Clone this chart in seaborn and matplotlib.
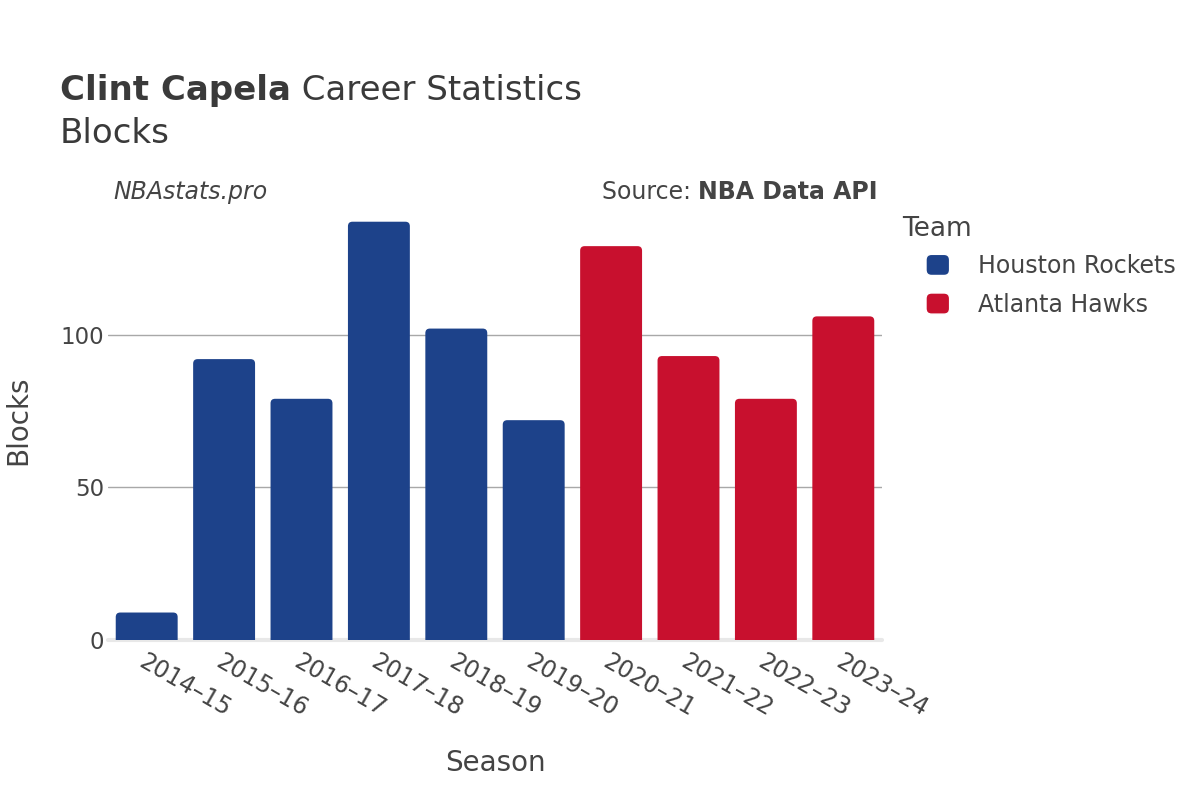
import matplotlib
matplotlib.use("Agg")
import matplotlib.pyplot as plt
import seaborn as sns
import pandas as pd
from matplotlib.patches import FancyBboxPatch
from matplotlib.legend_handler import HandlerPatch

# ---------------------------------------------------------------------------
# Data
# ---------------------------------------------------------------------------
SEASONS = ["2014–15", "2015–16", "2016–17", "2017–18", "2018–19",
           "2019–20", "2020–21", "2021–22", "2022–23", "2023–24"]
BLOCKS = [9, 92, 79, 137, 102, 72, 129, 93, 79, 106]
TEAMS = ["Houston Rockets"] * 6 + ["Atlanta Hawks"] * 4
TEAM_ORDER = ["Houston Rockets", "Atlanta Hawks"]
TEAM_COLORS = {"Houston Rockets": "#1D428A", "Atlanta Hawks": "#C8102E"}
Y_TICKS = [0, 50, 100]

TEXT = "#444444"

# ---------------------------------------------------------------------------
# Figure
# ---------------------------------------------------------------------------
sns.set_theme(style="white")
plt.rcParams["font.family"] = ["DejaVu Sans"]
plt.rcParams["text.color"] = TEXT

df = pd.DataFrame({"season": SEASONS, "blocks": BLOCKS, "team": TEAMS})

fig = plt.figure(figsize=(12, 8), dpi=100)
ax = fig.add_axes([0.09, 0.20, 0.645, 0.549])

sns.barplot(data=df, x="season", y="blocks", hue="team", hue_order=TEAM_ORDER,
            palette=TEAM_COLORS, dodge=False, width=0.8, saturation=1,
            legend=False, ax=ax)

ax.set_xlim(-0.5, len(SEASONS) - 0.5)
ax.set_ylim(0, max(BLOCKS) * 1.05)

# rounded tops: swap each bar for a rounded box, bottom corners hidden below 0
fig.canvas.draw()
bbox = ax.get_window_extent()
px_x = bbox.width / (ax.get_xlim()[1] - ax.get_xlim()[0])
px_y = bbox.height / (ax.get_ylim()[1] - ax.get_ylim()[0])
r = 4.5 / px_x
aspect = px_x / px_y
for p in list(ax.patches):
    x, y = p.get_x(), p.get_y()
    w, h = p.get_width(), p.get_height()
    ext = r * aspect
    fb = FancyBboxPatch((x, y - ext), w, h + ext,
                        boxstyle=f"round,pad=0,rounding_size={r}",
                        mutation_aspect=aspect,
                        facecolor=p.get_facecolor(), edgecolor="none",
                        zorder=2)
    ax.add_patch(fb)
    p.remove()

ax.set_yticks(Y_TICKS)
ax.yaxis.grid(True, color="#a8a8a8", linewidth=1)
ax.xaxis.grid(False)
ax.set_axisbelow(True)
ax.axhline(0, color="#e8e8e8", linewidth=3, zorder=1.5, clip_on=False)
for s in ax.spines.values():
    s.set_visible(False)

ax.tick_params(axis="y", length=0, pad=3, labelsize=16.5, labelcolor=TEXT)
ax.tick_params(axis="x", length=0, pad=7, labelsize=17, labelcolor=TEXT)
for lab in ax.get_xticklabels():
    lab.set_rotation(-30)
    lab.set_ha("left")
    lab.set_va("top")
    lab.set_rotation_mode("anchor")

ax.set_xlabel("Season", fontsize=20, color=TEXT, labelpad=20)
ax.set_ylabel("Blocks", fontsize=20, color=TEXT, labelpad=20)


# ---------------------------------------------------------------------------
# Titles and notes
# ---------------------------------------------------------------------------
def px(x, y):
    return x / 1200, 1 - y / 800


def text_pair(x, y, first, second, w1, w2, size, color=TEXT, align_right=False):
    renderer = fig.canvas.get_renderer()
    if not align_right:
        t1 = fig.text(*px(x, y), first, fontsize=size, fontweight=w1,
                      color=color, va="baseline", ha="left")
        ext = t1.get_window_extent(renderer)
        fig.text(ext.x1 / 1200, 1 - y / 800, second, fontsize=size,
                 fontweight=w2, color=color, va="baseline", ha="left")
    else:
        t2 = fig.text(*px(x, y), second, fontsize=size, fontweight=w2,
                      color=color, va="baseline", ha="right")
        ext = t2.get_window_extent(renderer)
        fig.text(ext.x0 / 1200, 1 - y / 800, first, fontsize=size,
                 fontweight=w1, color=color, va="baseline", ha="right")


text_pair(60, 100, "Clint Capela", " Career Statistics", "bold", "normal",
          24.5, color="#3a3a3a")
fig.text(*px(60, 143), "Blocks", fontsize=24.5, color="#3a3a3a", va="baseline")
fig.text(*px(113, 199), "NBAstats.pro", fontsize=17, style="italic",
         color=TEXT, va="baseline")
text_pair(878, 199, "Source: ", "NBA Data API", "normal", "bold", 17,
          align_right=True)

# ---------------------------------------------------------------------------
# Legend
# ---------------------------------------------------------------------------
fig.text(*px(902, 236), "Team", fontsize=19, color=TEXT, va="baseline")


def rounded_square(legend, orig_handle, xdescent, ydescent, width, height, fontsize):
    return FancyBboxPatch((-xdescent, -ydescent), width, height,
                          boxstyle="round,pad=0,rounding_size=4",
                          mutation_aspect=1)


handles = [plt.Rectangle((0, 0), 1, 1, facecolor=TEAM_COLORS[t]) for t in TEAM_ORDER]
fig.legend(handles, TEAM_ORDER, loc="upper left",
           bbox_to_anchor=px(926, 254), frameon=False, fontsize=17,
           handlelength=1.0, handleheight=1.0, handletextpad=1.2,
           labelspacing=0.62, borderpad=0, borderaxespad=0,
           labelcolor=TEXT,
           handler_map={plt.Rectangle: HandlerPatch(patch_func=rounded_square)})

fig.savefig("out.png", dpi=100, facecolor="white")
plt.close(fig)
